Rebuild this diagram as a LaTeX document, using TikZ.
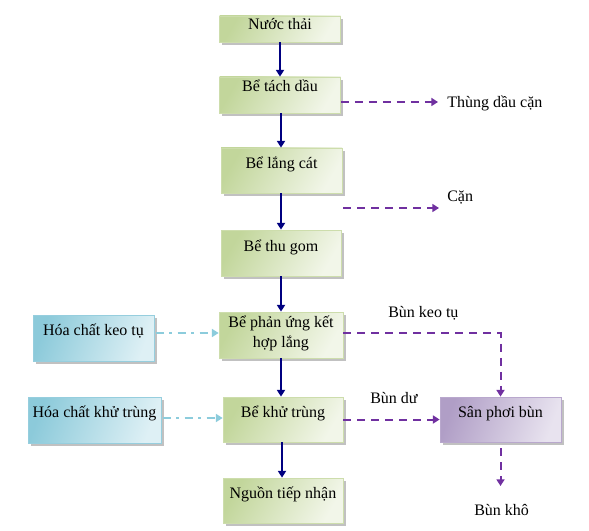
\documentclass[tikz,border=0pt]{standalone}
\usepackage{fontspec}
\setmainfont{Liberation Serif}
\usetikzlibrary{shadows,arrows.meta}
\definecolor{gdark}{RGB}{194,214,155}
\definecolor{glight}{RGB}{242,246,233}
\definecolor{gline}{RGB}{205,221,172}
\definecolor{bdark}{RGB}{140,202,218}
\definecolor{blight}{RGB}{222,240,245}
\definecolor{bline}{RGB}{150,206,222}
\definecolor{pdark}{RGB}{176,158,198}
\definecolor{plight}{RGB}{232,227,239}
\definecolor{pline}{RGB}{185,168,205}
\definecolor{flowblue}{RGB}{0,0,128}
\definecolor{sludgec}{RGB}{112,48,160}
\definecolor{chemc}{RGB}{140,204,220}
\newdimen\pxu \pxu=0.75pt
\newcommand{\bt}[4]{\vbox to #2\pxu{\offinterlineskip\vskip#3\pxu\hbox to #1\pxu{\hss\smash{#4}\hss}\vss}}
\newcommand{\btt}[6]{\vbox to #2\pxu{\offinterlineskip\vskip#3\pxu\hbox to #1\pxu{\hss\smash{#4}\hss}\vskip#5\pxu\hbox to #1\pxu{\hss\smash{#6}\hss}\vss}}
\tikzset{
  basebox/.style={inner sep=0pt, line width=0.6pt,
    drop shadow={shadow xshift=2pt, shadow yshift=-2pt, fill=black!40, opacity=0.6}},
  gbox/.style={basebox, draw=gline, left color=gdark, right color=glight, shading angle=60},
  bbox/.style={basebox, draw=bline, left color=bdark, right color=blight, shading angle=70},
  pbox/.style={basebox, draw=pline, left color=pdark, right color=plight, shading angle=70},
  flow/.style={draw=flowblue, line width=1.5pt, -{Triangle[length=5pt,width=6pt]}},
  sludge/.style={draw=sludgec, line width=1.5pt, dash pattern=on 6pt off 4.5pt, -{Triangle[length=5pt,width=6pt]}},
  chem/.style={draw=chemc, line width=1.1pt, dash pattern=on 6pt off 4pt on 2.5pt off 4pt, -{Triangle[length=5pt,width=6pt]}},
  lbl/.style={inner sep=0pt, anchor=base west}
}
\begin{document}
\begin{tikzpicture}[x=0.75pt, y=-0.75pt, font=\fontsize{12}{14}\selectfont]
\useasboundingbox[fill=white] (0,0) rectangle (589,531);
% main column
\node[gbox] (n1) at (280,29)    {\bt{121}{26}{14}{Nước thải}};
\node[gbox] (n2) at (280,95)    {\bt{121}{36}{15}{Bể tách dầu}};
\node[gbox] (n3) at (281.5,170.5) {\bt{121}{45}{21}{Bể lắng cát}};
\node[gbox] (n4) at (281,253)   {\bt{120}{46}{21}{Bể thu gom}};
\node[gbox] (n5) at (281,335)   {\btt{124}{46}{15}{Bể phản ứng kết}{20}{hợp lắng}};
\node[gbox] (n6) at (283,419.5) {\bt{120}{45}{20}{Bể khử trùng}};
\node[gbox] (n7) at (283,500.5) {\bt{120}{45}{20}{Nguồn tiếp nhận}};
% chemicals
\node[bbox] (h1) at (93.5,338)  {\bt{121}{46}{20}{Hóa chất keo tụ}};
\node[bbox] (h2) at (94.5,420)  {\bt{133}{46}{20}{Hóa chất khử trùng}};
% sludge drying
\node[pbox] (s) at (500.5,419.5) {\bt{121}{45}{20}{Sân phơi bùn}};
% labels
\node[lbl] (lt1) at (447,108) {Thùng dầu cặn};
\node[lbl] (lc)  at (447,202) {Cặn};
\node[lbl] (lk)  at (388,317) {Bùn keo tụ};
\node[lbl] (ld)  at (370,403) {Bùn dư};
\node[lbl] (lbk) at (474,515) {Bùn khô};
% flow arrows
\draw[flow] (n1.south) -- (n1.south |- n2.north);
\draw[flow] (n2.south -| 281,0) -- (n3.north -| 281,0);
\draw[flow] (n3.south -| 281,0) -- (n4.north -| 281,0);
\draw[flow] (n4.south -| 281,0) -- (n5.north -| 281,0);
\draw[flow] (n5.south -| 281,0) -- (n6.north -| 281,0);
\draw[flow] (n6.south -| 282,0) -- (n7.north -| 282,0);
% sludge arrows
\coordinate (t1) at (438,102);
\draw[sludge] (n2.east |- t1) -- (t1);
\coordinate (c1a) at (343,208);
\coordinate (c1b) at (439,208);
\draw[sludge] (c1a) -- (c1b);
\coordinate (k1) at (500,333);
\draw[sludge] (n5.east |- k1) -| (s.north);
\draw[sludge] (n6) -- (s);
\coordinate (bk0) at (500.5,448);
\coordinate (bk1) at (500.5,486);
\draw[sludge] (bk0) -- (bk1);
% chemical dosing
\coordinate (y1) at (0,333);
\coordinate (y2) at (0,418);
\draw[chem] ([xshift=1pt]h1.east |- y1) -- (n5.west |- y1);
\draw[chem] ([xshift=1pt]h2.east |- y2) -- (n6.west |- y2);
\end{tikzpicture}
\end{document}
